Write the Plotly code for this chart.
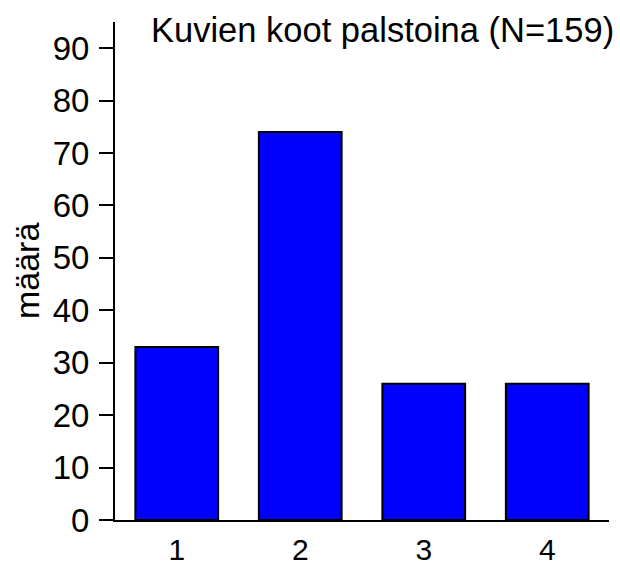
import plotly.graph_objects as go

# column sizes and how many pictures had each
sizes = [1, 2, 3, 4]
counts = [33, 74, 26, 26]
y_ticks = [0, 10, 20, 30, 40, 50, 60, 70, 80, 90]
title_text = "Kuvien koot palstoina (N=159)"
y_label = "määrä"

font = "Liberation Sans, Arial, sans-serif"

fig = go.Figure()
fig.add_trace(
    go.Bar(
        x=sizes,
        y=counts,
        marker=dict(color="#0000FF", line=dict(color="black", width=2)),
    )
)

fig.update_layout(
    template="none",
    width=620,
    height=567,
    margin=dict(l=115, r=11, t=22, b=47),
    paper_bgcolor="white",
    plot_bgcolor="white",
    bargap=0.33,
    showlegend=False,
    font=dict(family=font, color="black", size=33),
)
fig.update_xaxes(
    automargin=False,
    range=[0.5, 4.5],
    tickvals=sizes,
    ticks="",
    ticklabelstandoff=2,
    showline=True,
    linecolor="black",
    linewidth=2,
    showgrid=False,
    zeroline=False,
    tickfont=dict(family="Liberation Sans Narrow, Arial Narrow, sans-serif", size=30),
)
fig.update_yaxes(
    automargin=False,
    range=[0, 95],
    tickvals=y_ticks,
    ticks="outside",
    ticklen=14,
    tickwidth=2,
    tickcolor="black",
    ticklabelstandoff=3,
    showline=True,
    linecolor="black",
    linewidth=2,
    showgrid=False,
    zeroline=False,
    tickfont=dict(size=33),
)
fig.add_annotation(
    text=title_text, xref="paper", yref="paper", x=0.069, y=0.984,
    xanchor="left", yanchor="middle", showarrow=False, font=dict(size=34.5),
)
fig.add_annotation(
    text=y_label, xref="paper", yref="paper", x=-0.178, y=0.5,
    xanchor="center", yanchor="middle", textangle=-90, showarrow=False,
    font=dict(size=34),
)

# the page body has an 8px margin by default; drop it so the chart fills the window
fig.write_html(
    "out.html",
    config={"displayModeBar": False},
    post_script="document.body.style.margin='0';",
)
